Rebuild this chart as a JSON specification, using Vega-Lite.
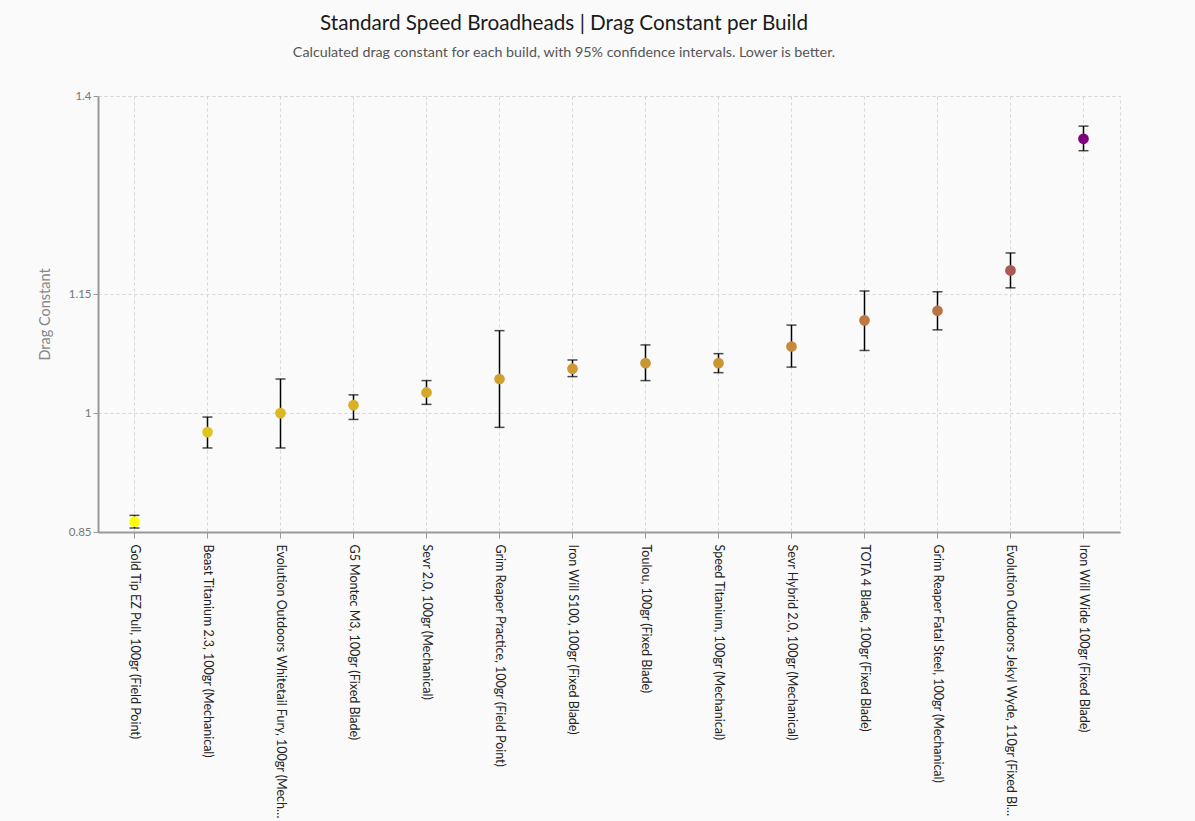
{
  "$schema": "https://vega.github.io/schema/vega-lite/v6.json",
  "autosize": {"type": "none"},
  "padding": {"left": 98, "top": 96, "right": 75, "bottom": 289},
  "width": 1022,
  "height": 436,
  "background": "#fafafa",
  "config": {
    "font": "Lato",
    "view": {"stroke": "#d6d6d6", "strokeDash": [3, 3]},
    "axis": {
      "gridColor": "#d6d6d6",
      "gridDash": [3, 3],
      "domainColor": "#999999",
      "domainWidth": 2,
      "tickColor": "#999999",
      "labelFont": "Lato",
      "titleFont": "Lato"
    }
  },
  "title": {
    "text": "Standard Speed Broadheads | Drag Constant per Build",
    "subtitle": "Calculated drag constant for each build, with 95% confidence intervals. Lower is better.",
    "anchor": "middle",
    "dx": -45,
    "offset": 29,
    "fontSize": 20.7,
    "fontWeight": "normal",
    "color": "#1a1a1a",
    "subtitleFontSize": 14.3,
    "subtitleColor": "#555555",
    "subtitlePadding": 11
  },
  "data": {
    "values": [
      {"build": "Gold Tip EZ Pull, 100gr (Field Point)", "drag": 0.863, "lo": 0.855, "hi": 0.871},
      {"build": "Beast Titanium 2.3, 100gr (Mechanical)", "drag": 0.976, "lo": 0.956, "hi": 0.995},
      {"build": "Evolution Outdoors Whitetail Fury, 100gr (Mechanical)", "drag": 1.0, "lo": 0.956, "hi": 1.043},
      {"build": "G5 Montec M3, 100gr (Fixed Blade)", "drag": 1.01, "lo": 0.992, "hi": 1.023},
      {"build": "Sevr 2.0, 100gr (Mechanical)", "drag": 1.026, "lo": 1.011, "hi": 1.041},
      {"build": "Grim Reaper Practice, 100gr (Field Point)", "drag": 1.043, "lo": 0.982, "hi": 1.104},
      {"build": "Iron Will S100, 100gr (Fixed Blade)", "drag": 1.056, "lo": 1.046, "hi": 1.067},
      {"build": "Toulou, 100gr (Fixed Blade)", "drag": 1.063, "lo": 1.041, "hi": 1.086},
      {"build": "Speed Titanium, 100gr (Mechanical)", "drag": 1.063, "lo": 1.051, "hi": 1.075},
      {"build": "Sevr Hybrid 2.0, 100gr (Mechanical)", "drag": 1.084, "lo": 1.058, "hi": 1.111},
      {"build": "TOTA 4 Blade, 100gr (Fixed Blade)", "drag": 1.117, "lo": 1.079, "hi": 1.154},
      {"build": "Grim Reaper Fatal Steel, 100gr (Mechanical)", "drag": 1.129, "lo": 1.105, "hi": 1.153},
      {"build": "Evolution Outdoors Jekyl Wyde, 110gr (Fixed Blade)", "drag": 1.18, "lo": 1.158, "hi": 1.202},
      {"build": "Iron Will Wide 100gr (Fixed Blade)", "drag": 1.346, "lo": 1.331, "hi": 1.362}
    ]
  },
  "encoding": {
    "x": {
      "field": "build",
      "type": "nominal",
      "sort": null,
      "title": null,
      "axis": {
        "labelAngle": 90,
        "labelLimit": 275,
        "labelFontSize": 12.5,
        "labelColor": "#222222",
        "labelPadding": 6,
        "tickSize": 6,
        "grid": true
      }
    }
  },
  "layer": [
    {
      "mark": {
        "type": "errorbar",
        "color": "black",
        "ticks": {"size": 10, "thickness": 1.5},
        "rule": {"strokeWidth": 1.5}
      },
      "encoding": {
        "y": {
          "field": "lo",
          "type": "quantitative",
          "title": "Drag Constant",
          "scale": {"domain": [0.85, 1.4], "nice": false, "zero": false},
          "axis": {
            "values": [0.85, 1, 1.15, 1.4],
            "format": "~g",
            "labelFontSize": 11.5,
            "labelColor": "#777777",
            "titleColor": "#888888",
            "titleFontSize": 14.5,
            "titleFontWeight": "normal",
            "titlePadding": 16,
            "tickSize": 5
          }
        },
        "y2": {"field": "hi"}
      }
    },
    {
      "mark": {"type": "point", "filled": true, "opacity": 1, "size": 115},
      "encoding": {
        "y": {"field": "drag", "type": "quantitative"},
        "color": {
          "field": "drag",
          "type": "quantitative",
          "legend": null,
          "scale": {"range": ["#ffff00", "#800080"], "interpolate": "rgb"}
        }
      }
    }
  ]
}
